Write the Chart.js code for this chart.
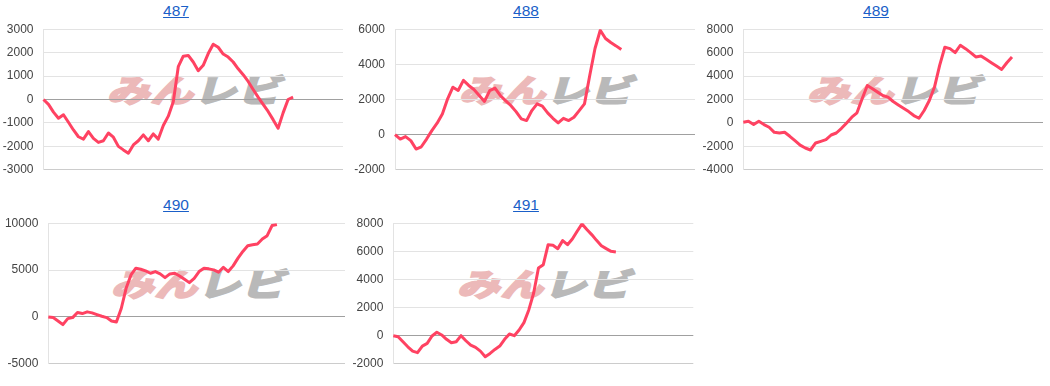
<!DOCTYPE html>
<html>
<head>
<meta charset="utf-8">
<script src="https://cdn.jsdelivr.net/npm/chart.js@4/dist/chart.umd.min.js"></script>
<style>
  body { margin: 0; background: #fff; width: 1050px; height: 386px; overflow: hidden; position: relative;
         font-family: "Liberation Sans", Arial, sans-serif; }
  .panel { position: absolute; width: 350px; height: 193px; }
  .title { position: absolute; left: 1px; width: 350px; top: 2px; text-align: center; font-size: 15.5px; }
  .title a { color: #1a5fc8; text-decoration: underline; }
  .mark { position: absolute; width: 200px; height: 36px; line-height: 36px; text-align: center; white-space: nowrap;
          font-family: "Noto Sans CJK JP", sans-serif; font-weight: 700; font-size: 31px; letter-spacing: 1px;
          transform: skewX(-16deg) scaleX(1.36); }
  .mark .a { color: #ecb9b9; -webkit-text-stroke: 2.5px #ecb9b9; }
  .mark .b { color: #b9b9b9; -webkit-text-stroke: 2.5px #b9b9b9; }
  .panel canvas { position: absolute; left: 0; }
</style>
</head>
<body>
<script>
// 台番号
const machines = ['487', '488', '489', '490', '491'];

// 差枚推移
const series487 = [0, -210, -540, -800, -650, -970, -1300, -1590, -1690, -1370, -1660, -1830, -1760, -1430, -1610,
  -2000, -2150, -2290, -1940, -1760, -1510, -1760, -1470, -1690, -1110, -710, -100, 1400, 1850, 1880,
  1600, 1230, 1460, 1960, 2360, 2230, 1940, 1810, 1600, 1310, 1060, 770, 430, 100, -210,
  -510, -860, -1230, -570, 0, 100];
const series488 = [0, -250, -110, -340, -820, -690, -250, 230, 650, 1180, 2040, 2700, 2510, 3090, 2800,
  2570, 2230, 1890, 2510, 2650, 2230, 1940, 1660, 1310, 900, 800, 1370, 1750, 1620, 1240,
  930, 670, 930, 800, 990, 1370, 1750, 3370, 4900, 5940, 5470, 5240, 5050, 4840];
const series489 = [60, 140, -140, 140, -140, -370, -800, -860, -800, -1140, -1510, -1890, -2140, -2310, -1710,
  -1570, -1430, -1030, -860, -460, 0, 490, 860, 2060, 3200, 2910, 2630, 2340, 2200, 1830,
  1540, 1260, 970, 630, 400, 1060, 1910, 3060, 4910, 6460, 6340, 6000, 6630, 6340, 6000,
  5630, 5710, 5430, 5140, 4860, 4570, 5140, 5630];
const series490 = [0, -70, -430, -820, -180, -70, 470, 360, 540, 430, 250, 70, -70, -430, -540,
  900, 3050, 4480, 5200, 5090, 4910, 4660, 4840, 4590, 4190, 4590, 4660, 4370, 4010, 3660,
  4120, 4840, 5200, 5130, 5020, 4770, 5300, 4840, 5450, 6270, 6990, 7600, 7710, 7780, 8310,
  8670, 9750, 9860];
const series491 = [0, -70, -430, -790, -1100, -1210, -740, -550, -20, 240, 50, -260, -500, -430, 0,
  -360, -670, -830, -1100, -1500, -1260, -980, -740, -260, 120, 0, 400, 930, 1830, 3020,
  4810, 5050, 6470, 6430, 6190, 6760, 6470, 6880, 7430, 7950, 7550, 7190, 6780, 6400, 6190,
  6000, 5950];
const allSeries = [series487, series488, series489, series490, series491];

// 横軸の枠数
const slotCounts = [61, 58, 59, 62, 63];

// 縦軸の目盛
const yMin = [-3000, -2000, -4000, -5000, -2000];
const yMax = [3000, 6000, 8000, 10000, 8000];
const yStep = [1000, 2000, 2000, 5000, 2000];

// 配置
const panelPos = [[0, 0], [350, 0], [700, 0], [0, 193.5], [350, 193.5]];
const axisWidth = [43.5, 45, 43.3, 48.3, 43.3];
const padRight = [7, 5, 7, 5, 6.7];
const canvasTop = 12;
const canvasHeight = 175;

machines.forEach(function (name, i) {
  const panel = document.createElement('div');
  panel.className = 'panel';
  panel.style.left = panelPos[i][0] + 'px';
  panel.style.top = panelPos[i][1] + 'px';

  const title = document.createElement('div');
  title.className = 'title';
  title.innerHTML = '<a href="#">' + name + '</a>';
  panel.appendChild(title);

  // ウォーターマーク
  const cx = axisWidth[i] + (350 - axisWidth[i] - padRight[i]) / 2;
  const mark = document.createElement('div');
  mark.className = 'mark';
  mark.style.left = (cx - 95) + 'px';
  mark.style.top = (89 - 18) + 'px';
  mark.innerHTML = '<span class="a">みん</span><span class="b">レビ</span>';
  panel.appendChild(mark);

  const canvas = document.createElement('canvas');
  canvas.width = 350;
  canvas.height = canvasHeight;
  canvas.style.top = canvasTop + 'px';
  panel.appendChild(canvas);
  document.body.appendChild(panel);

  const labels = Array.from({ length: slotCounts[i] }, (_, k) => k + 1);

  new Chart(canvas, {
    type: 'line',
    data: {
      labels: labels,
      datasets: [{
        data: allSeries[i],
        borderColor: '#ff4262',
        borderWidth: 3,
        pointRadius: 0,
        tension: 0,
        fill: false,
        borderJoinStyle: 'round'
      }]
    },
    options: {
      responsive: false,
      animation: false,
      layout: { padding: { top: 0, bottom: 0, left: 0, right: padRight[i] } },
      plugins: { legend: { display: false }, tooltip: { enabled: false } },
      scales: {
        x: { display: false },
        y: {
          min: yMin[i],
          max: yMax[i],
          afterFit: function (s) { s.width = axisWidth[i]; },
          ticks: {
            stepSize: yStep[i],
            color: '#444',
            padding: 10,
            font: { family: '"Liberation Sans", Arial, sans-serif', size: 12 },
            callback: (v) => String(v)
          },
          grid: {
            drawTicks: false,
            color: (c) => c.tick && c.tick.value === 0 ? '#a0a0a0' : (c.tick && c.tick.value === yMin[i] ? '#cccccc' : '#e3e3e3')
          },
          border: { display: true, color: '#e3e3e3' }
        }
      }
    }
  });
});
</script>
</body>
</html>
